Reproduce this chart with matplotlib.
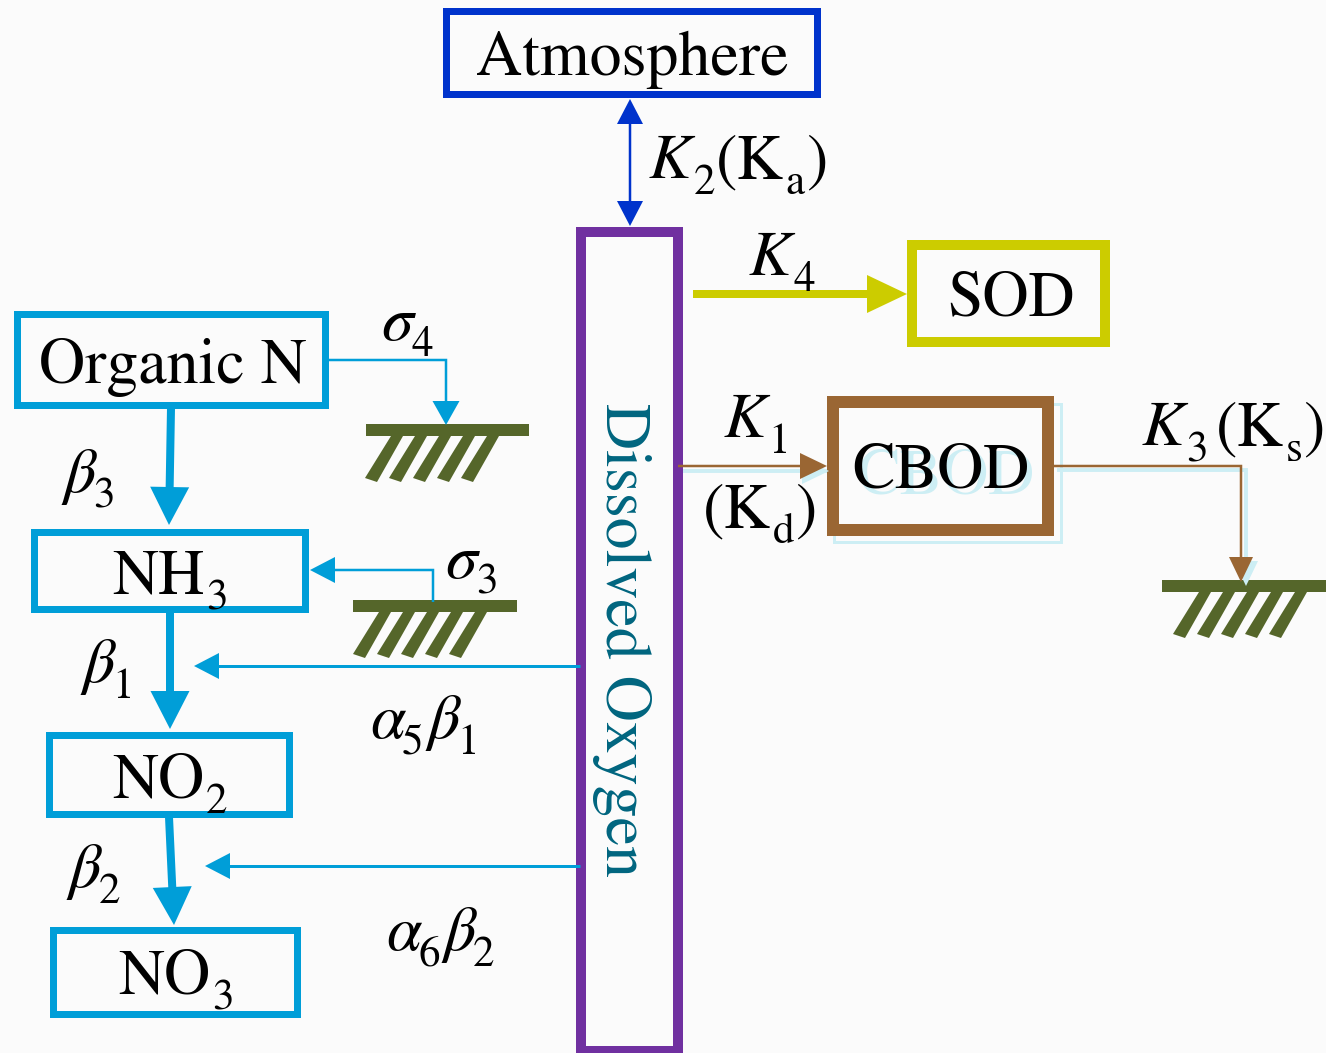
import numpy as np
import matplotlib.pyplot as plt
from matplotlib.patches import Rectangle, Polygon

plt.rcParams['mathtext.fontset'] = 'stix'
plt.rcParams['font.family'] = ['STIXGeneral', 'Liberation Serif', 'DejaVu Serif']

W, H = 1326, 1053
PX = 0.72  # points per pixel at dpi 100
FS = 46
SUB = 31

CYAN = '#009ED8'
OLIVE = '#55662A'
BROWN = '#9A6633'
YELLOW = '#CCCC00'
BLUE = '#0033CC'
PURPLE = '#7030A0'
TEAL = '#00657F'
SHADOW = '#CDEEF4'

# boxes: outer (x0, y0, x1, y1), edge colour, stroke width px
box_names = ['Atmosphere', 'Organic N', 'NH3', 'NO2', 'NO3', 'SOD', 'CBOD', 'Dissolved Oxygen']
box_bounds = [(442, 7, 820, 97), (13, 310, 328, 408), (30, 528, 308, 612),
              (45, 731, 292, 817), (49, 926, 300, 1017), (907, 240, 1110, 347),
              (827, 396, 1054, 536), (576, 227, 683, 1056)]
box_colors = [BLUE, CYAN, CYAN, CYAN, CYAN, YELLOW, BROWN, PURPLE]
box_lw = [7, 7, 7, 7, 7, 10, 12, 10]

# every label as pieces: (text, italic?, subscript?)
labels = {
    'Atmosphere': [('Atmosphere', 0, 0)],
    'Organic N': [('Organic N', 0, 0)],
    'NH3': [('NH', 0, 0), ('3', 0, 1)],
    'NO2': [('NO', 0, 0), ('2', 0, 1)],
    'NO3': [('NO', 0, 0), ('3', 0, 1)],
    'SOD': [('SOD', 0, 0)],
    'CBOD': [('CBOD', 0, 0)],
    'K2': [('K', 1, 0), ('2', 0, 1), ('(K', 0, 0), ('a', 0, 1), (')', 0, 0)],
    'K4': [('K', 1, 0), ('4', 0, 1)],
    'K1': [('K', 1, 0), ('1', 0, 1)],
    'Kd': [('(K', 0, 0), ('d', 0, 1), (')', 0, 0)],
    'K3': [('K', 1, 0), ('3', 0, 1)],
    'Ks': [('(K', 0, 0), ('s', 0, 1), (')', 0, 0)],
    's4': [(r'$\sigma$', 0, 0), ('4', 0, 1)],
    's3': [(r'$\sigma$', 0, 0), ('3', 0, 1)],
    'b3': [(r'$\beta$', 0, 0), ('3', 0, 1)],
    'b1': [(r'$\beta$', 0, 0), ('1', 0, 1)],
    'b2': [(r'$\beta$', 0, 0), ('2', 0, 1)],
    'a5b1': [(r'$\alpha$', 0, 0), ('5', 0, 1), (r'$\beta$', 0, 0), ('1', 0, 1)],
    'a6b2': [(r'$\alpha$', 0, 0), ('6', 0, 1), (r'$\beta$', 0, 0), ('2', 0, 1)],
}
# left x, baseline y
label_pos = {
    'Atmosphere': (476, 75), 'Organic N': (39, 383), 'NH3': (112, 593),
    'NO2': (112, 797), 'NO3': (118, 994), 'SOD': (947, 316), 'CBOD': (852, 488),
    'K2': (649, 178), 'K4': (749, 275), 'K1': (724, 437), 'Kd': (703, 527),
    'K3': (1142, 445), 'Ks': (1216, 445), 's4': (381, 340), 's3': (445, 578),
    'b3': (61, 492), 'b1': (80, 682), 'b2': (66, 887), 'a5b1': (370, 738),
    'a6b2': (386, 950),
}

# ground (sediment) symbols: bar x0, x1, bar top y, first stroke offset
grounds = [(366, 529, 424, 25), (353, 517, 600, 26), (1162, 1326, 580, 37)]

fig = plt.figure(figsize=(W / 100, H / 100), dpi=100)
fig.patch.set_facecolor('#FBFBFB')
ax = fig.add_axes([0, 0, 1, 1])
ax.set_xlim(0, W)
ax.set_ylim(H, 0)
ax.axis('off')
rend = fig.canvas.get_renderer()


def rich(x, y, parts, color='black', dx=0, dy=0, z=3):
    x += dx
    for s, it, sub in parts:
        t = ax.text(x, y + dy + (16 if sub else 0), s, fontsize=SUB if sub else FS,
                    style='italic' if it else 'normal', color=color,
                    ha='left', va='baseline', zorder=z)
        pad = -5 if s.startswith('$') else (1 if sub else 2)
        x += t.get_window_extent(renderer=rend).width + pad


def head(p2, d, hl, hw, color):
    n = np.array([-d[1], d[0]])
    base = p2 - d * hl
    ax.add_patch(Polygon([p2, base + n * hw / 2, base - n * hw / 2],
                         closed=True, facecolor=color, lw=0, zorder=3))


def arrow(pts, color, lw, hl, hw, both=False, shadow=None):
    pts = np.array(pts, float)
    if shadow is not None:
        sp = pts + np.array(shadow)
        ax.plot(sp[:, 0], sp[:, 1], color=SHADOW, lw=lw * PX + 1, zorder=1,
                solid_joinstyle='miter')
        d = (sp[-1] - sp[-2]) / np.linalg.norm(sp[-1] - sp[-2])
        head(sp[-1], d, hl, hw, SHADOW)
    line = pts.copy()
    d = (pts[-1] - pts[-2]) / np.linalg.norm(pts[-1] - pts[-2])
    line[-1] = pts[-1] - d * hl * 0.6
    if both:
        d0 = (pts[0] - pts[1]) / np.linalg.norm(pts[0] - pts[1])
        line[0] = pts[0] - d0 * hl * 0.6
        head(pts[0], d0, hl, hw, color)
    ax.plot(line[:, 0], line[:, 1], color=color, lw=lw * PX, zorder=2,
            solid_capstyle='butt', solid_joinstyle='miter')
    head(pts[-1], d, hl, hw, color)


def ground(x0, x1, y, off):
    ax.add_patch(Rectangle((x0, y), x1 - x0, 12, facecolor=OLIVE, lw=0, zorder=2))
    for i in range(5):
        xt = x0 + off + i * 24
        ax.add_patch(Polygon([(xt, y + 12), (xt + 12, y + 12),
                              (xt + 12 - 26, y + 58), (xt - 26, y + 54)],
                             closed=True, facecolor=OLIVE, lw=0, zorder=2))


# CBOD box shadow
ax.add_patch(Rectangle((834, 404), 227, 138, fill=False, edgecolor=SHADOW,
                       lw=3 * PX, zorder=1))

for (x0, y0, x1, y1), c, lw in zip(box_bounds, box_colors, box_lw):
    ax.add_patch(Rectangle((x0 + lw / 2, y0 + lw / 2), x1 - x0 - lw, y1 - y0 - lw,
                           fill=False, edgecolor=c, lw=lw * PX, zorder=2,
                           joinstyle='miter'))

rich(*label_pos['CBOD'], labels['CBOD'], color=SHADOW, dx=5, dy=5, z=2)
for key, parts in labels.items():
    rich(*label_pos[key], parts)

ax.text(622, 640, box_names[-1], fontsize=FS, color=TEAL, rotation=270,
        ha='center', va='center', zorder=3)

for g in grounds:
    ground(*g)

# arrows
arrow([(630, 99), (630, 226)], BLUE, 2.5, 25, 26, both=True)
arrow([(693, 294), (907, 294)], YELLOW, 8, 40, 38)
arrow([(678, 466), (827, 466)], BROWN, 2.5, 27, 26, shadow=(2, 5))
arrow([(1054, 466), (1241, 466), (1241, 582)], BROWN, 2.5, 25, 24, shadow=(5, 4))

arrow([(328, 360), (446, 360), (446, 425)], CYAN, 2.5, 24, 27)
arrow([(433, 602), (433, 570), (310, 570)], CYAN, 2.5, 25, 26)
arrow([(580, 666), (194, 666)], CYAN, 3, 25, 26)
arrow([(580, 866), (205, 866)], CYAN, 3, 25, 26)

arrow([(171, 408), (169, 525)], CYAN, 8, 38, 39)
arrow([(170, 612), (170, 729)], CYAN, 8, 38, 39)
arrow([(169, 817), (174, 925)], CYAN, 8, 38, 39)

fig.savefig('out.png', dpi=100, facecolor=fig.get_facecolor())
